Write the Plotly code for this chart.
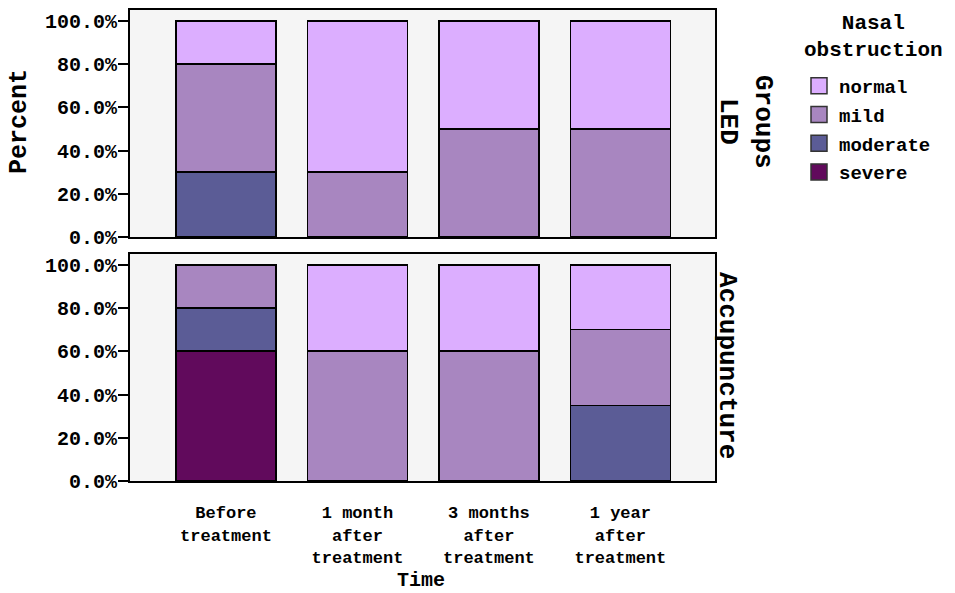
import plotly.graph_objects as go

times = ["Before<br>treatment", "1 month<br>after<br>treatment",
         "3 months<br>after<br>treatment", "1 year<br>after<br>treatment"]
groups = ["LED", "Accupuncture"]
levels = ["severe", "moderate", "mild", "normal"]
legend_order = ["normal", "mild", "moderate", "severe"]
colors = {"severe": "#610A5C", "moderate": "#5B5C96",
          "mild": "#A886C0", "normal": "#DCAEFF"}
y_ticks = [0, 20, 40, 60, 80, 100]
y_tick_labels = ["0.0%", "20.0%", "40.0%", "60.0%", "80.0%", "100.0%"]

led_severe = [0, 0, 0, 0]
led_moderate = [30, 0, 0, 0]
led_mild = [50, 30, 50, 50]
led_normal = [20, 70, 50, 50]

acu_severe = [60, 0, 0, 0]
acu_moderate = [20, 0, 0, 35]
acu_mild = [20, 60, 60, 35]
acu_normal = [0, 40, 40, 30]

data = {
    "LED": {"severe": led_severe, "moderate": led_moderate, "mild": led_mild, "normal": led_normal},
    "Accupuncture": {"severe": acu_severe, "moderate": acu_moderate, "mild": acu_mild, "normal": acu_normal},
}

FONT = "Liberation Mono"
W, H = 955, 593

def px_x(x):
    return x / W

def px_y(y):
    return 1 - y / H

fig = go.Figure()
axes = [("x", "y"), ("x2", "y2")]
for gi, g in enumerate(groups):
    xa, ya = axes[gi]
    for lv in levels:
        vals = data[g][lv]
        xs = [t for t, v in zip(times, vals) if v > 0]
        ys = [v for v in vals if v > 0]
        fig.add_trace(go.Bar(
            x=xs, y=ys, name=lv, xaxis=xa, yaxis=ya,
            marker=dict(color=colors[lv], line=dict(color="#000000", width=1.6)),
            showlegend=False, hoverinfo="skip",
        ))

# legend entries (square swatches)
for lv in legend_order:
    fig.add_trace(go.Scatter(
        x=[None], y=[None], mode="markers", name=lv, legendgroup=lv,
        marker=dict(symbol="square", size=20, color=colors[lv],
                    line=dict(color="#333", width=1.5)),
        xaxis="x", yaxis="y",
    ))

xdom = [px_x(130), px_x(715)]
yaxis_common = dict(
    range=[0, 105], tickvals=y_ticks, ticktext=y_tick_labels,
    ticks="outside", ticklen=10, ticklabelstandoff=-3,
    tickwidth=2, tickcolor="#000", showgrid=False, zeroline=False,
    showline=True, linecolor="#000", linewidth=2, mirror=True,
    tickfont=dict(family=FONT, size=20, color="#000", weight="bold"),
    automargin=False,
)
xaxis_common = dict(
    categoryorder="array", categoryarray=times, range=[-0.73, 3.72],
    showline=True, linecolor="#000", linewidth=2, mirror=True,
    showgrid=False, zeroline=False, domain=xdom, automargin=False,
)

fig.update_layout(
    width=W, height=H, margin=dict(l=0, r=0, t=0, b=0),
    paper_bgcolor="white", plot_bgcolor="#F5F5F5",
    barmode="stack", bargap=0.24,
    xaxis=dict(**xaxis_common, anchor="y", showticklabels=False, ticks=""),
    xaxis2=dict(**xaxis_common, anchor="y2", ticks="outside", ticklen=15,
                tickcolor="rgba(0,0,0,0)",
                tickfont=dict(family=FONT, size=17, color="#000", weight="bold")),
    yaxis=dict(**yaxis_common, domain=[px_y(237), px_y(10)], anchor="x"),
    yaxis2=dict(**yaxis_common, domain=[px_y(481), px_y(254)], anchor="x2"),
    legend=dict(
        x=px_x(799), y=px_y(67), xanchor="left", yanchor="top",
        traceorder="grouped", bgcolor="rgba(0,0,0,0)",
        font=dict(family=FONT, size=19, color="#000", weight="bold"),
        itemwidth=30, tracegroupgap=1,
    ),
    font=dict(family=FONT, color="#000"),
)

fig.add_annotation(text="Nasal<br>obstruction", x=px_x(873), y=px_y(37), xref="paper", yref="paper",
                   showarrow=False, align="center", xanchor="center", yanchor="middle",
                   font=dict(family=FONT, size=21, color="#000", weight="bold"))
fig.add_annotation(text="Percent", x=px_x(20), y=px_y(122), xref="paper", yref="paper",
                   showarrow=False, textangle=-90, xanchor="center", yanchor="middle",
                   font=dict(family=FONT, size=25, color="#000", weight="bold"))
fig.add_annotation(text="Time", x=px_x(421), y=px_y(580), xref="paper", yref="paper",
                   showarrow=False, xanchor="center", yanchor="middle",
                   font=dict(family=FONT, size=20, color="#000", weight="bold"))
fig.add_annotation(text="LED", x=px_x(728), y=px_y(121), xref="paper", yref="paper",
                   showarrow=False, textangle=90, xanchor="center", yanchor="middle",
                   font=dict(family=FONT, size=26, color="#000", weight="bold"))
fig.add_annotation(text="Accupuncture", x=px_x(727), y=px_y(365), xref="paper", yref="paper",
                   showarrow=False, textangle=90, xanchor="center", yanchor="middle",
                   font=dict(family=FONT, size=26, color="#000", weight="bold"))
fig.add_annotation(text="Groups", x=px_x(763), y=px_y(122), xref="paper", yref="paper",
                   showarrow=False, textangle=90, xanchor="center", yanchor="middle",
                   font=dict(family=FONT, size=26, color="#000", weight="bold"))

fig.write_html("out.html", config={"displayModeBar": False},
               post_script="document.body.style.margin='0px';")
